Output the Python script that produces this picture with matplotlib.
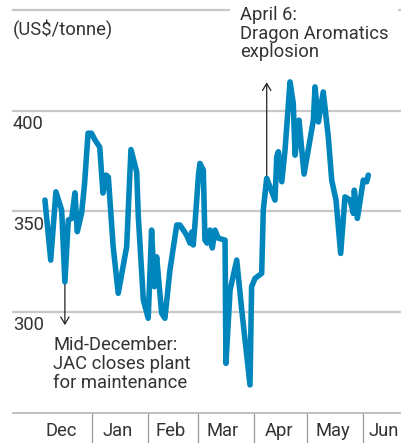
import matplotlib
matplotlib.use("Agg")
import matplotlib.pyplot as plt

plt.rcParams['font.family'] = ['Roboto', 'DejaVu Sans']

# days counted from 1 Dec 2014, price in US$/tonne
days = [4.8, 8.0, 10.9, 14.1, 15.9, 17.8, 19.7, 21.5, 22.8, 25.2, 26.8, 28.8,
        30.7, 32.7, 35.3, 37.1, 38.9, 40.1, 42.8, 45.6, 50.3, 52.7, 55.9, 56.8,
        59.6, 62.3, 64.2, 65.7, 67.0, 69.8, 71.6, 74.4, 78.2, 80.0, 83.7, 85.6,
        86.5, 87.4, 88.4, 90.3, 91.1, 93.0, 93.9, 95.2, 96.7, 98.0, 99.5, 101.3,
        105.1, 105.6, 107.9, 111.6, 114.4, 119.0, 119.9, 121.8, 125.5, 126.4,
        128.3, 130.1, 132.9, 133.9, 134.8, 136.7, 138.5, 141.3, 143.1, 144.1,
        146.3, 149.1, 154.3, 155.2, 157.1, 159.8, 162.6, 164.5, 166.9, 169.5,
        171.9, 174.7, 176.6, 177.1, 178.8, 182.1, 184.0, 184.9]
price = [355.6, 325.8, 359.7, 350.6, 315.0, 345.7, 346.5, 359.2, 339.9, 349.1,
         363.0, 388.8, 388.8, 385.4, 381.9, 359.1, 368.0, 367.0, 332.4, 309.3,
         332.4, 380.7, 369.6, 347.3, 306.0, 296.9, 340.7, 312.6, 327.4, 299.4,
         296.9, 320.8, 343.2, 343.2, 338.2, 334.2, 339.7, 333.3, 344.2, 368.0,
         373.8, 370.5, 335.7, 334.2, 340.7, 331.8, 340.7, 336.7, 335.7, 274.5,
         310.9, 325.8, 301.0, 263.8, 312.6, 316.7, 319.2, 350.6, 366.4, 362.2,
         355.6, 377.1, 379.6, 364.7, 380.4, 414.3, 403.6, 377.9, 395.3, 368.5,
         395.3, 411.8, 394.4, 409.3, 387.0, 365.5, 355.6, 329.1, 357.2, 355.6,
         349.0, 360.5, 346.5, 365.5, 364.7, 368.0]

month_starts = [31, 62, 90, 121, 151, 182]
month_label_days = [14, 45, 75, 104, 135, 165, 193.5]
month_names = ['Dec', 'Jan', 'Feb', 'Mar', 'Apr', 'May', 'Jun']
y_ticks = [300, 350, 400]

text_col = '#333333'
grid_col = '#c8c8c8'
fs = 13.2

fig = plt.figure(figsize=(4.01, 4.43), dpi=100)
ax = fig.add_axes([13 / 401, 1 - 412.7 / 443, 1 - 13 / 401, 402.7 / 443])
ax.set_xlim(-13.0, 203.1)
ax.set_ylim(250, 450)

# gridlines
for v in y_ticks + [450]:
    ax.axhline(v, color=grid_col, lw=1.6, zorder=1, clip_on=False)

for s in ['top', 'left', 'right']:
    ax.spines[s].set_visible(False)
ax.spines['bottom'].set_color('#bbbbbb')
ax.spines['bottom'].set_linewidth(1.3)

ax.set_yticks([])
ax.set_xticks(month_label_days)
ax.set_xticklabels(month_names, fontsize=fs, color=text_col)
ax.tick_params(axis='x', which='major', length=0, pad=7)
ax.set_xticks(month_starts, minor=True)
ax.tick_params(axis='x', which='minor', length=23, width=0.9, color='#999999')

# y labels sit under their gridlines
for v in y_ticks:
    ax.annotate(str(v), xy=(0, v), xycoords=('axes fraction', 'data'),
                xytext=(0, -3), textcoords='offset points',
                ha='left', va='top', fontsize=fs, color=text_col)
ax.annotate('(US$/tonne)', xy=(0, 450), xycoords=('axes fraction', 'data'),
            xytext=(0, -7), textcoords='offset points',
            ha='left', va='top', fontsize=fs, color=text_col)

# price line
ax.plot(days, price, color='#0086bd', lw=4.0, solid_joinstyle='round',
        solid_capstyle='round', zorder=3)

# annotations
ax.annotate('', xy=(days[4], 293.5), xytext=(days[4], price[4]),
            arrowprops=dict(arrowstyle='->,head_length=0.5,head_width=0.3',
                            color='#222222', lw=0.9, shrinkA=0, shrinkB=0),
            zorder=2)
ax.text(9.4, 288, 'Mid-December:\nJAC closes plant\nfor maintenance',
        ha='left', va='top', fontsize=fs, color=text_col, linespacing=1.05)

ax.annotate('', xy=(days[58], 414.1), xytext=(days[58], price[58]),
            arrowprops=dict(arrowstyle='->,head_length=0.5,head_width=0.3',
                            color='#222222', lw=0.9, shrinkA=0, shrinkB=0),
            zorder=2)
ax.text(113.4, 452, 'April 6:\nDragon Aromatics\nexplosion',
        ha='left', va='top', fontsize=fs, color=text_col, linespacing=1.05,
        bbox=dict(facecolor='white', edgecolor='none', pad=7), zorder=4)

fig.savefig('out.png', dpi=100)
